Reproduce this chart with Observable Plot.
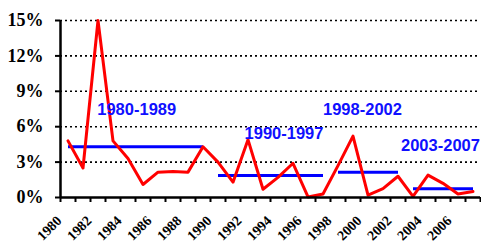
<!DOCTYPE html>
<html><head><meta charset="utf-8">
<script src="https://cdn.jsdelivr.net/npm/d3@7"></script>
<script src="https://cdn.jsdelivr.net/npm/@observablehq/plot@0.6"></script>
<style>body{margin:0;background:#fff}</style></head>
<body><div id="chart"></div>
<script>
const years = [1980,1981,1982,1983,1984,1985,1986,1987,1988,1989,1990,1991,1992,1993,1994,1995,1996,1997,1998,1999,2000,2001,2002,2003,2004,2005,2006,2007];
const rates = [4.8,2.5,15.0,4.8,3.3,1.1,2.15,2.2,2.15,4.3,3.0,1.3,4.9,0.7,1.7,2.9,0.05,0.3,2.7,5.2,0.2,0.75,1.8,0.1,1.9,1.2,0.3,0.5];
const periodNames = ["1980-1989","1990-1997","1998-2002","2003-2007"];
const periodStart = [1980,1990,1998,2003];
const periodEnd = [1989,1997,2002,2007];
const periodAvg = [4.3,1.86,2.15,0.75];
const labelYear = [1981.95,1991.77,1997.0,2002.2];
const labelValue = [7.4,5.4,7.45,4.35];
const yTicks = [0,3,6,9,12,15];
const xLabelYears = [1980,1982,1984,1986,1988,1990,1992,1994,1996,1998,2000,2002,2004,2006];

const series = years.map((y,i)=>({year:y, rate:rates[i]}));
const periods = periodNames.map((n,i)=>({name:n, x1:periodStart[i], x2:periodEnd[i], y:periodAvg[i], lx:labelYear[i], ly:labelValue[i]}));
const bounds = years.map(y=>y-0.5).concat([years[years.length-1]+0.5]);

const chart = Plot.plot({
  width: 481, height: 244,
  marginLeft: 60, marginRight: 1, marginTop: 20, marginBottom: 47,
  style: {fontFamily: "Liberation Serif", background: "#fff", overflow: "visible"},
  x: {type: "linear", domain: [bounds[0], bounds[bounds.length-1]]},
  y: {domain: [0, 15]},
  marks: [
    Plot.ruleY(yTicks.filter(d=>d>0), {stroke: "black", strokeWidth: 1.6, strokeDasharray: "2,3"}),
    Plot.axisY({ticks: yTicks, tickFormat: d => d + "%", tickSize: 5, tickPadding: 12, fontSize: 18, fontWeight: "bold", stroke: "black", strokeWidth: 2, label: null}),
    Plot.axisX({ticks: bounds, tickSize: 5, tickFormat: () => "", stroke: "black", strokeWidth: 2, label: null}),
    Plot.text(xLabelYears, {x: d => d, text: d => String(d), frameAnchor: "bottom", dx: -5.5, dy: 24, rotate: -45, textAnchor: "end", fontSize: 14, fontWeight: "bold", fill: "black"}),
    Plot.link(periods, {x1: "x1", x2: "x2", y1: "y", y2: "y", stroke: "#0000ff", strokeWidth: 3}),
    Plot.line(series, {x: "year", y: "rate", stroke: "#ff0000", strokeWidth: 3}),
    Plot.ruleX([bounds[0]], {stroke: "black", strokeWidth: 2.5}),
    Plot.ruleY([0], {stroke: "black", strokeWidth: 2.5}),
    Plot.text(periods, {x: "lx", y: "ly", text: "name", textAnchor: "start", fill: "#1010ff", fontFamily: "Liberation Sans", fontWeight: "bold", fontSize: 16.5})
  ]
});
document.getElementById("chart").appendChild(chart);
</script></body></html>
